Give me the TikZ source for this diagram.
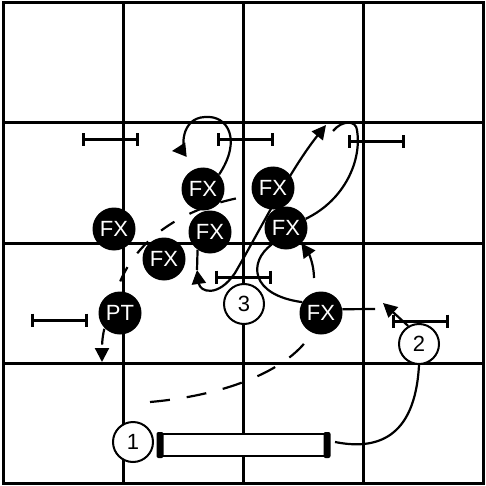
\documentclass[tikz,border=0pt]{standalone}
\usepackage{fontspec}
\setmainfont{Liberation Sans}
\usetikzlibrary{arrows.meta,backgrounds}
\begin{document}
\begin{tikzpicture}[x=1pt,y=-1pt,
  gridline/.style={line width=3pt},
  fx/.style={circle, fill=black, text=white, minimum size=43pt, inner sep=0pt, font=\fontsize{22}{22}\selectfont},
  pl/.style={circle, draw=black, fill=white, line width=2pt, minimum size=40pt, inner sep=0pt, font=\fontsize{22}{22}\selectfont},
  mv/.style={line width=2.2pt},
  tipend/.style={-{Triangle[length=14pt,width=14pt]}},
  dsh/.style={line width=2.2pt, dash pattern=on 16pt off 17pt},
  ibeam/.pic={\draw[line width=3pt] (-27,0) -- (27,0) (-27,-6.5) -- (-27,6.5) (27,-6.5) -- (27,6.5);}]
\useasboundingbox (0,0) rectangle (486,486);
% players
\node[fx] (a) at (203,189) {FX};
\node[fx] (b) at (273,188) {FX};
\node[fx] (c) at (114,229) {FX};
\node[fx] (d) at (210,232) {FX};
\node[fx] (e) at (286,228) {FX};
\node[fx] (f) at (164,259) {FX};
\node[fx] (g) at (321,313) {FX};
\node[fx] (pt) at (120,313) {PT};
\node[pl] (p3) at (244,304) {3};
\node[pl] (p2) at (419,344) {2};
\node[pl] (p1) at (133,442) {1};
\node[draw, fill=white, line width=2.5pt, minimum width=167pt, minimum height=22pt, inner sep=0pt] (log) at (243.5,445) {};
\fill[rounded corners=2pt] (156.5,432) rectangle (163.5,458);
\fill[rounded corners=2pt] (323.5,432) rectangle (330.5,458);
% free ends
\coordinate (ta) at (172,151);
\coordinate (tb) at (102,362);
\coordinate (tc) at (150,402);
\coordinate (tA) at (197,270);
\coordinate (tB) at (326,125);
\coordinate (tL) at (333,131);
\coordinate (tE) at (314,278);
\coordinate (tG) at (375,309);
\coordinate (t2) at (383,303);
\coordinate (tR) at (335,442);
\begin{scope}[on background layer]
  \draw[gridline] (3,3) rectangle (483,483);
  \foreach \v in {123,243,363} {
    \draw[gridline] (\v,3) -- (\v,483);
    \draw[gridline] (3,\v) -- (483,\v);
  }
  \pic at (110,140) {ibeam};
  \pic at (245,140) {ibeam};
  \pic at (376,142) {ibeam};
  \pic at (243.5,277) {ibeam};
  \pic at (59.5,320) {ibeam};
  \pic at (420,321) {ibeam};
  % connectors
  \draw[mv,tipend] (a.42) .. controls (242,140) and (228,115) .. (205,117) .. controls (180,118) and (182,150) .. (ta);
  \draw[dsh,tipend,dash phase=16pt] (b.-160) .. controls (170,208) and (130,250) .. (117,290) .. controls (108,315) and (102,330) .. (tb);
  \draw[mv,dash pattern=on 20pt off 17pt] (tc) .. controls (230,395) and (292,368) .. (g.-115);
  \draw[mv,{Triangle[length=14pt,width=14pt]}-{Triangle[length=14pt,width=14pt]}] (tA) .. controls (200,292) and (218,298) .. (235,273) .. controls (260,230) and (290,170) .. (tB);
  \draw[mv] (d.-125) -- (tA);
  \draw[mv] (e.25) .. controls (345,200) and (362,160) .. (357,130) .. controls (356,120) and (342,120) .. (tL);
  \draw[mv] (e.-131) .. controls (248,262) and (250,295) .. (g.150);
  \draw[mv,tipend] (tE) .. controls (314,265) and (309,254) .. (e.-45);
  \draw[mv] (g.10) -- (tG);
  \draw[mv,tipend] (p2.121) -- (t2);
  \draw[mv] (tR) .. controls (375,450) and (415,440) .. (p2.south);
\end{scope}
\end{tikzpicture}
\end{document}
